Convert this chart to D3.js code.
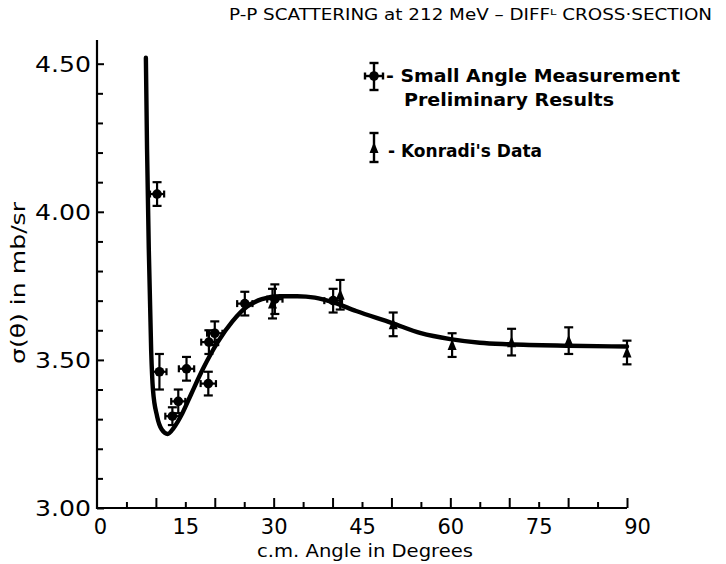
<!DOCTYPE html>
<html>
<head>
<meta charset="utf-8">
<script src="https://cdn.jsdelivr.net/npm/d3@7/dist/d3.min.js"></script>
<style>
  html, body { margin: 0; padding: 0; background: #fff; }
  svg { display: block; }
  text { fill: #000; font-family: "DejaVu Sans", sans-serif; }
</style>
</head>
<body>
<svg id="chart" width="726" height="564"></svg>
<script>
// Small angle measurement (preliminary): angle (deg), sigma (mb/sr), errors
const saAngle    = [10.2, 10.6, 12.8, 13.8, 15.2, 18.9, 19.0, 20.0, 25.1, 30.2, 40.1];
const saValue    = [4.06, 3.46, 3.31, 3.36, 3.47, 3.42, 3.56, 3.59, 3.69, 3.705, 3.70];
const saErr      = [0.04, 0.06, 0.03, 0.04, 0.04, 0.04, 0.04, 0.04, 0.04, 0.05, 0.04];
const saAngleErr = [1.2, 1.2, 1.2, 1.2, 1.3, 1.3, 1.3, 1.3, 1.3, 1.3, 1.5];

// Konradi's data
const kAngle = [29.8, 41.3, 50.3, 60.3, 70.4, 80.1, 90.0];
const kValue = [3.69, 3.72, 3.62, 3.55, 3.56, 3.565, 3.525];
const kErr   = [0.05, 0.05, 0.04, 0.04, 0.045, 0.045, 0.04];

// Fitted curve
const curveAngle = [8.3, 8.5, 8.8, 9.2, 9.5, 10.2, 11.0, 12.0, 13.0, 14.5, 16.0, 18.0, 20.5, 23.0, 25.5, 28.0, 31.0, 34.0, 37.0, 40.0, 44.0, 50.0, 55.0, 60.0, 65.0, 70.0, 80.0, 90.0];
const curveValue = [4.52, 4.21, 3.87, 3.53, 3.40, 3.31, 3.265, 3.25, 3.27, 3.32, 3.385, 3.47, 3.56, 3.63, 3.68, 3.705, 3.715, 3.715, 3.71, 3.695, 3.665, 3.625, 3.59, 3.57, 3.558, 3.553, 3.548, 3.545];

// Axis ticks
const xMajorTicks = [0, 15, 30, 45, 60, 75, 90];
const xMinorTicks = d3.range(5, 90, 5);
const yMajorTicks = [3.0, 3.5, 4.0, 4.5];
const yMinorTicks = [3.1, 3.2, 3.3, 3.4, 3.6, 3.7, 3.8, 3.9, 4.1, 4.2, 4.3, 4.4];

const svg = d3.select("#chart");
const x = d3.scaleLinear().domain([0, 90]).range([97, 627]);
const y = d3.scaleLinear().domain([3.0, 4.58]).range([508, 40]);

// Title
svg.append("text")
  .attr("x", 229).attr("y", 20)
  .attr("font-size", 16).attr("font-weight", "normal")
  .attr("textLength", 483).attr("lengthAdjust", "spacingAndGlyphs")
  .text("P-P SCATTERING at 212 MeV  –  DIFF\u1D38 CROSS·SECTION");

// Axes lines
const axisG = svg.append("g").attr("stroke", "#000").attr("stroke-width", 2.2).attr("fill", "none");
axisG.append("line").attr("x1", x(0)).attr("x2", x(0)).attr("y1", y(4.58)).attr("y2", y(3.0) + 1);
axisG.append("line").attr("x1", x(0) - 1).attr("x2", x(90)).attr("y1", y(3.0)).attr("y2", y(3.0));

// Y ticks (inside)
const yAxis = d3.axisLeft(y).tickValues(yMajorTicks).tickSize(-7).tickPadding(14)
  .tickFormat(d3.format(".2f"));
const gy = svg.append("g").attr("transform", `translate(${x(0)},0)`).call(yAxis);
gy.select(".domain").remove();
gy.selectAll(".tick line").attr("stroke", "#000").attr("stroke-width", 2);
gy.selectAll(".tick text").attr("font-size", 21).attr("x", -6)
  .attr("textLength", 56).attr("lengthAdjust", "spacingAndGlyphs").attr("dy", "0.36em");

const gyMinor = svg.append("g").attr("transform", `translate(${x(0)},0)`)
  .call(d3.axisLeft(y).tickValues(yMinorTicks).tickSize(-6).tickFormat(""));
gyMinor.select(".domain").remove();
gyMinor.selectAll(".tick line").attr("stroke", "#000").attr("stroke-width", 2);

// X ticks (inside)
const gx = svg.append("g").attr("transform", `translate(0,${y(3.0)})`)
  .call(d3.axisBottom(x).tickValues(xMinorTicks.concat([90])).tickFormat("").tickSize(0));
gx.select(".domain").remove();
gx.selectAll(".tick line")
  .attr("stroke", "#000").attr("stroke-width", 2)
  .attr("y2", d => (d % 10 === 0 ? -10 : -6));

const gxl = svg.append("g").attr("transform", `translate(0,${y(3.0)})`)
  .call(d3.axisBottom(x).tickValues(xMajorTicks).tickSize(0).tickPadding(11).tickFormat(d3.format("d")));
gxl.select(".domain").remove();
gxl.selectAll(".tick text").attr("font-size", 21).attr("dx", d => (d === 90 ? 10 : d === 0 ? 3 : 0));

// Axis titles
svg.append("text").attr("x", 365).attr("y", 557).attr("text-anchor", "middle")
  .attr("font-size", 18).attr("textLength", 216).attr("lengthAdjust", "spacingAndGlyphs")
  .text("c.m. Angle  in  Degrees");
svg.append("text").attr("transform", "translate(25,283) rotate(-90)").attr("text-anchor", "middle")
  .attr("font-size", 19).attr("textLength", 162).attr("lengthAdjust", "spacingAndGlyphs")
  .text("σ(θ) in  mb/sr");

// Curve
const line = d3.line().x((d, i) => x(curveAngle[i])).y(d => y(d)).curve(d3.curveMonotoneX);
svg.append("path").datum(curveValue)
  .attr("d", line).attr("fill", "none").attr("stroke", "#000")
  .attr("stroke-width", 4.4).attr("stroke-linecap", "round").attr("stroke-linejoin", "round");

// Marker drawing helpers
function errorBar(g, cx, y1, y2) {
  g.append("line").attr("x1", cx).attr("x2", cx).attr("y1", y1).attr("y2", y2);
  g.append("line").attr("x1", cx - 4.5).attr("x2", cx + 4.5).attr("y1", y1).attr("y2", y1);
  g.append("line").attr("x1", cx - 4.5).attr("x2", cx + 4.5).attr("y1", y2).attr("y2", y2);
}
function crossMarker(g, cx, cy, y1, y2, x1, x2) {
  errorBar(g, cx, y1, y2);
  g.append("line").attr("x1", x1).attr("x2", x2).attr("y1", cy).attr("y2", cy);
  g.append("line").attr("x1", x1).attr("x2", x1).attr("y1", cy - 3.5).attr("y2", cy + 3.5);
  g.append("line").attr("x1", x2).attr("x2", x2).attr("y1", cy - 3.5).attr("y2", cy + 3.5);
  g.append("circle").attr("cx", cx).attr("cy", cy).attr("r", 4.8).attr("fill", "#000").attr("stroke", "none");
}
function triMarker(g, cx, cy, y1, y2) {
  errorBar(g, cx, y1, y2);
  g.append("path").attr("d", `M${cx},${cy - 6}L${cx + 4.5},${cy + 5}L${cx - 4.5},${cy + 5}Z`)
    .attr("fill", "#000").attr("stroke", "none");
}

const marks = svg.append("g").attr("stroke", "#000").attr("stroke-width", 2.2);
saAngle.forEach((a, i) => {
  crossMarker(marks, x(a), y(saValue[i]), y(saValue[i] + saErr[i]), y(saValue[i] - saErr[i]),
    x(a - saAngleErr[i]), x(a + saAngleErr[i]));
});
kAngle.forEach((a, i) => {
  triMarker(marks, x(a), y(kValue[i]), y(kValue[i] + kErr[i]), y(kValue[i] - kErr[i]));
});

// Legend
const leg = svg.append("g").attr("stroke", "#000").attr("stroke-width", 2.4);
crossMarker(leg, 374, 76, 63, 90, 365, 383);
triMarker(leg, 374, 148, 133, 162);

const legText = svg.append("g").attr("font-size", 17).attr("font-weight", "bold");
legText.append("text").attr("x", 386).attr("y", 82)
  .attr("textLength", 294).attr("lengthAdjust", "spacingAndGlyphs")
  .text("- Small  Angle  Measurement");
legText.append("text").attr("x", 404).attr("y", 106)
  .attr("textLength", 210).attr("lengthAdjust", "spacingAndGlyphs")
  .text("Preliminary  Results");
legText.append("text").attr("x", 388).attr("y", 157)
  .attr("textLength", 154).attr("lengthAdjust", "spacingAndGlyphs")
  .text("- Konradi's  Data");
</script>
</body>
</html>
